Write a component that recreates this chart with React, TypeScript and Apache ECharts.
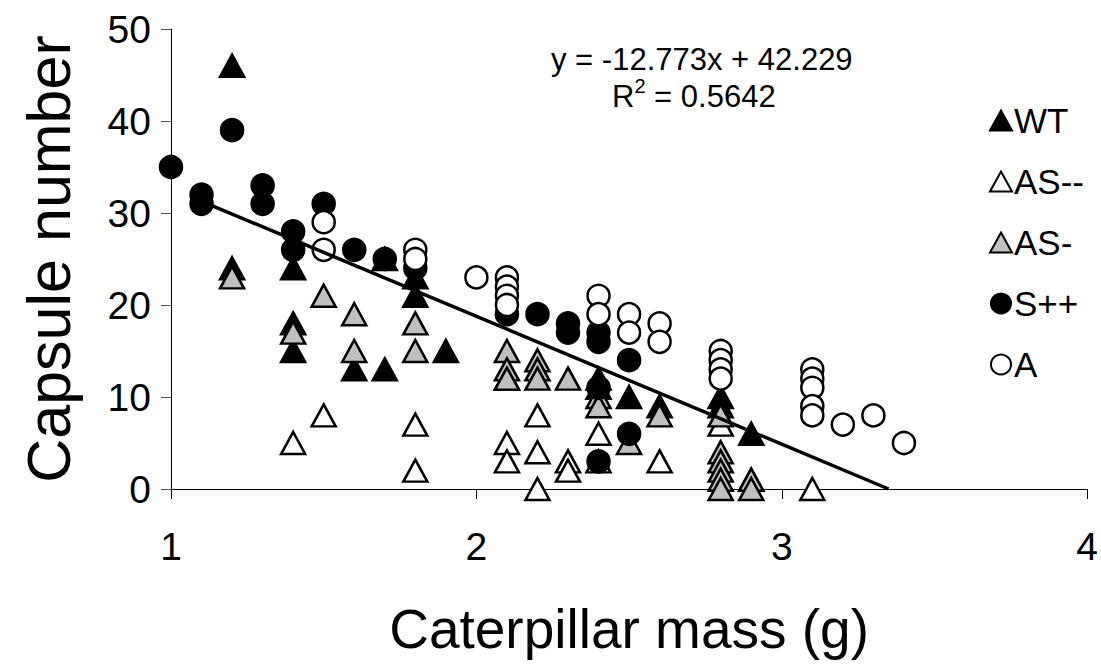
import React, { useEffect, useRef } from "react";
import * as echarts from "echarts";

const seriesNames = ["WT", "AS--", "AS-", "S++", "A"];

const wtData: number[][] = [
  [1.2, 46], [1.2, 24], [1.4, 24], [1.4, 18], [1.4, 15], [1.6, 13], [1.7, 13], [1.7, 25],
  [1.8, 23], [1.8, 21], [1.9, 15], [2.1, 12], [2.4, 12], [2.4, 11], [2.5, 10], [2.6, 9],
  [2.8, 10], [2.8, 9], [2.9, 6],
];

const asMinusMinusData: number[][] = [
  [1.4, 5], [1.5, 8], [1.8, 7], [1.8, 2], [2.1, 5], [2.1, 3], [2.2, 8], [2.2, 4], [2.2, 0],
  [2.3, 3], [2.3, 2], [2.4, 6], [2.4, 3], [2.6, 3], [2.8, 7], [2.9, 1], [3.1, 0],
];

const asMinusData: number[][] = [
  [1.2, 23], [1.4, 17], [1.5, 21], [1.6, 19], [1.6, 15], [1.8, 18], [1.8, 15], [2.1, 15],
  [2.1, 13], [2.1, 12], [2.2, 14], [2.2, 13], [2.2, 12], [2.3, 12], [2.4, 10], [2.4, 9],
  [2.5, 5], [2.6, 8], [2.8, 8], [2.8, 4], [2.8, 3], [2.8, 2], [2.8, 1], [2.8, 0],
  [2.9, 1], [2.9, 0],
];

const sPlusPlusData: number[][] = [
  [1.0, 35], [1.1, 32], [1.1, 31], [1.2, 39], [1.3, 33], [1.3, 31], [1.4, 28], [1.4, 26],
  [1.5, 31], [1.6, 26], [1.7, 25], [1.8, 24], [2.1, 19], [2.2, 19], [2.3, 18], [2.3, 17],
  [2.4, 17], [2.4, 16], [2.4, 11], [2.4, 3], [2.5, 14], [2.5, 6],
];

const aData: number[][] = [
  [1.5, 29], [1.5, 26], [1.8, 26], [1.8, 25], [2.0, 23], [2.1, 23], [2.1, 22], [2.1, 21],
  [2.1, 20], [2.4, 21], [2.4, 19], [2.5, 19], [2.5, 17], [2.6, 18], [2.6, 16], [2.8, 15],
  [2.8, 14], [2.8, 13], [2.8, 12], [3.1, 13], [3.1, 12], [3.1, 11], [3.1, 9], [3.1, 8],
  [3.2, 7], [3.3, 8], [3.4, 5],
];

const trendLine: number[][] = [
  [1.12, 31], [3.35, 0],
];

const equationText = "y = -12.773x + 42.229";
const r2Prefix = "R";
const r2Sup = "2";
const r2Value = " = 0.5642";

const FONT = "Liberation Sans, Arial, sans-serif";

export default function App() {
  const ref = useRef<HTMLDivElement>(null);

  useEffect(() => {
    if (!ref.current) return;
    const chart = echarts.init(ref.current, null, { renderer: "svg" });

    const triSize = [24, 22];
    const circSize = 22;
    const border = 2.5;

    const option: any = {
      animation: false,
      backgroundColor: "#ffffff",
      textStyle: { fontFamily: FONT },
      grid: { left: 171, right: 10, top: 29, bottom: 178, containLabel: false },
      legend: {
        orient: "vertical",
        left: 984,
        top: 98,
        itemGap: 26,
        itemWidth: 22,
        itemHeight: 20,
        data: seriesNames,
        textStyle: { fontFamily: FONT, fontSize: 35, color: "#000", padding: [0, 0, 0, -3] },
      },
      xAxis: {
        type: "value",
        min: 1,
        max: 4,
        interval: 1,
        name: "Caterpillar mass (g)",
        nameLocation: "middle",
        nameGap: 112,
        nameTextStyle: { fontFamily: FONT, fontSize: 55, color: "#000" },
        axisLine: { show: true, onZero: false, lineStyle: { color: "#000", width: 1 } },
        axisTick: { show: true, inside: false, length: 10, lineStyle: { color: "#000" } },
        axisLabel: { fontFamily: FONT, fontSize: 39, color: "#000", margin: 38 },
        splitLine: { show: false },
      },
      yAxis: {
        type: "value",
        min: 0,
        max: 50,
        interval: 10,
        name: "Capsule number",
        nameLocation: "middle",
        nameGap: 92,
        nameTextStyle: { fontFamily: FONT, fontSize: 61, color: "#000" },
        axisLine: { show: true, onZero: false, lineStyle: { color: "#000", width: 1 } },
        axisTick: { show: true, inside: false, length: 10, lineStyle: { color: "#555" } },
        axisLabel: { fontFamily: FONT, fontSize: 39, color: "#000", margin: 20 },
        splitLine: { show: false },
      },
      graphic: [
        {
          type: "text",
          left: 551,
          top: 44,
          style: { text: equationText, fontFamily: FONT, fontSize: 31, fill: "#000" },
        },
        {
          type: "text",
          left: 612,
          top: 76,
          style: {
            text: "{b|" + r2Prefix + "}{s|" + r2Sup + "}{b|" + r2Value + "}",
            fontFamily: FONT,
            rich: {
              b: { fontFamily: FONT, fontSize: 31, fill: "#000", color: "#000", verticalAlign: "bottom", lineHeight: 36 },
              s: { fontFamily: FONT, fontSize: 20, fill: "#000", color: "#000", verticalAlign: "top", lineHeight: 36, padding: [0, 0, 10, 0] },
            },
          },
        },
      ],
      series: [
        {
          name: "WT",
          type: "scatter",
          symbol: "triangle",
          symbolSize: triSize,
          data: wtData,
          itemStyle: { color: "#000", borderColor: "#000", borderWidth: border, opacity: 1 },
        },
        {
          name: "AS--",
          type: "scatter",
          symbol: "triangle",
          symbolSize: triSize,
          data: asMinusMinusData,
          itemStyle: { color: "#fff", borderColor: "#000", borderWidth: border, opacity: 1 },
        },
        {
          name: "AS-",
          type: "scatter",
          symbol: "triangle",
          symbolSize: triSize,
          data: asMinusData,
          itemStyle: { color: "#c0c0c0", borderColor: "#000", borderWidth: border, opacity: 1 },
        },
        {
          name: "S++",
          type: "scatter",
          symbol: "circle",
          symbolSize: circSize,
          data: sPlusPlusData,
          itemStyle: { color: "#000", borderColor: "#000", borderWidth: border, opacity: 1 },
        },
        {
          name: "A",
          type: "scatter",
          symbol: "circle",
          symbolSize: circSize,
          data: aData,
          itemStyle: { color: "#fff", borderColor: "#000", borderWidth: border, opacity: 1 },
        },
        {
          name: "trend",
          type: "line",
          data: trendLine,
          symbol: "none",
          silent: true,
          lineStyle: { color: "#000", width: 3.5 },
        },
      ],
    };

    chart.setOption(option);
    return () => chart.dispose();
  }, []);

  return (
    <div
      ref={ref}
      style={{ position: "absolute", left: 0, top: 0, width: 1101, height: 667, overflow: "hidden" }}
    />
  );
}
